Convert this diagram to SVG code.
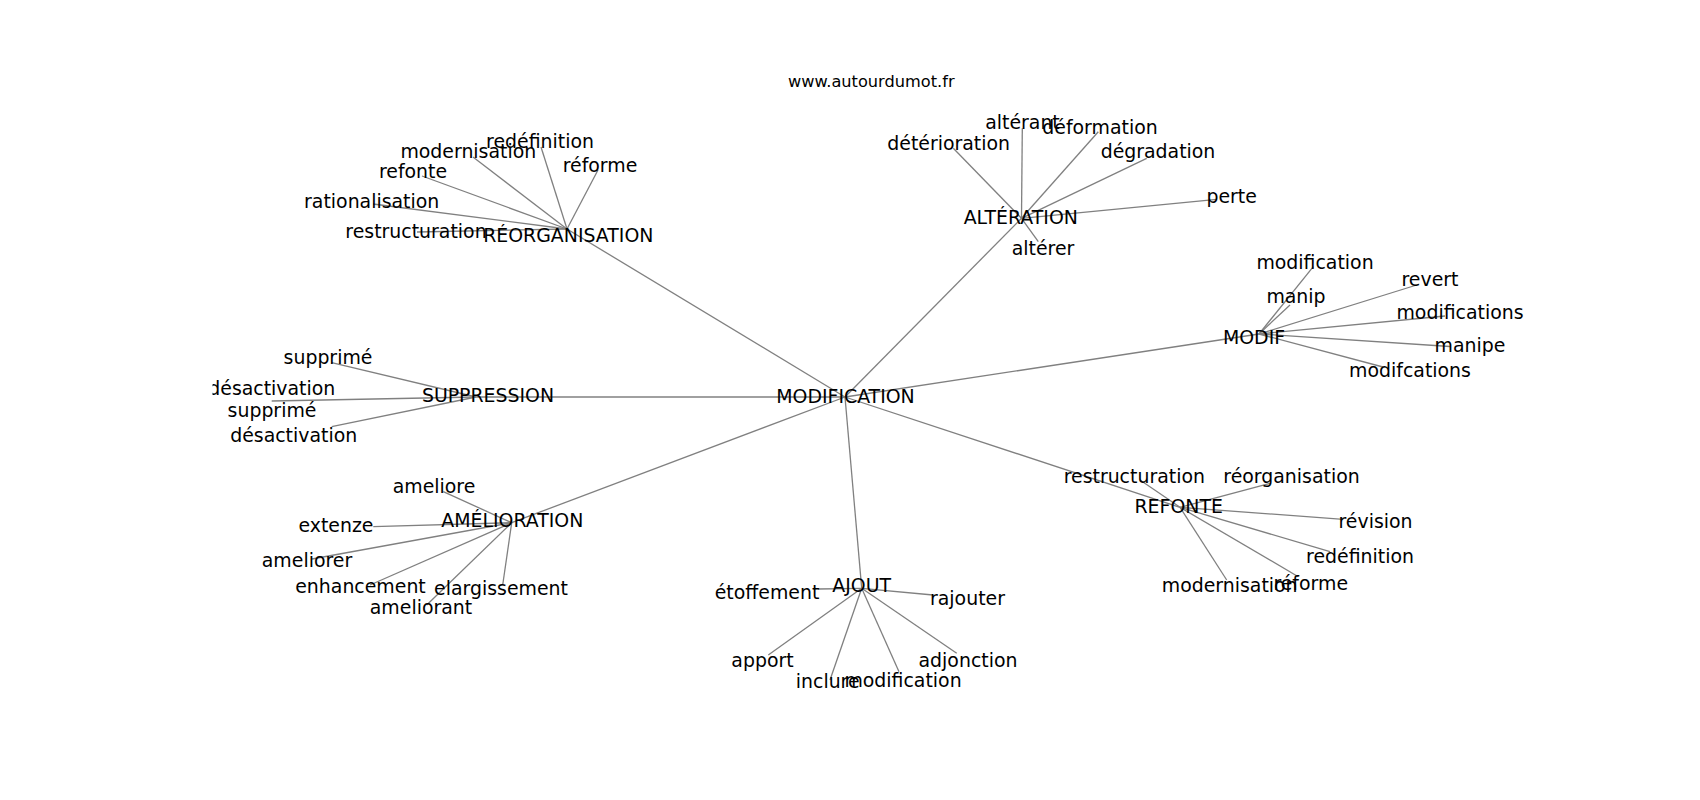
<svg xmlns="http://www.w3.org/2000/svg" width="1700" height="800" viewBox="0 0 1700 800">
<style>
.e{stroke:#808080;stroke-width:1.3;fill:none}
.t{font-family:"DejaVu Sans",sans-serif;font-size:18.9px;fill:#000;text-anchor:middle}
.ttl{font-family:"DejaVu Sans",sans-serif;font-size:16.2px;fill:#000;text-anchor:middle}
</style>
<defs><clipPath id="ax"><rect x="212.5" y="96" width="1317.5" height="616"/></clipPath></defs>
<rect width="1700" height="800" fill="#fff"/>
<text class="ttl" x="871.3" y="87.3">www.autourdumot.fr</text>
<g id="edges" clip-path="url(#ax)">
<line class="e" x1="845" y1="397" x2="567" y2="229"/>
<line class="e" x1="845" y1="397" x2="1021.5" y2="218.3"/>
<line class="e" x1="845" y1="397" x2="1259" y2="334"/>
<line class="e" x1="845" y1="397" x2="476" y2="397"/>
<line class="e" x1="845" y1="397" x2="511.7" y2="522.7"/>
<line class="e" x1="845" y1="397" x2="861.7" y2="588.3"/>
<line class="e" x1="845" y1="397" x2="1180" y2="507.3"/>
<line class="e" x1="567" y1="229" x2="417" y2="232"/>
<line class="e" x1="567" y1="229" x2="373" y2="204"/>
<line class="e" x1="567" y1="229" x2="422" y2="176"/>
<line class="e" x1="567" y1="229" x2="473" y2="157"/>
<line class="e" x1="567" y1="229" x2="541" y2="147"/>
<line class="e" x1="567" y1="229" x2="598" y2="170"/>
<line class="e" x1="1021.5" y1="218.3" x2="953.3" y2="148.3"/>
<line class="e" x1="1021.5" y1="218.3" x2="1022.3" y2="128.3"/>
<line class="e" x1="1021.5" y1="218.3" x2="1098.3" y2="131.7"/>
<line class="e" x1="1021.5" y1="218.3" x2="1146.7" y2="158.3"/>
<line class="e" x1="1021.5" y1="218.3" x2="1216.7" y2="199.3"/>
<line class="e" x1="1021.5" y1="218.3" x2="1038.3" y2="241.7"/>
<line class="e" x1="1259" y1="334" x2="1313.3" y2="266.7"/>
<line class="e" x1="1259" y1="334" x2="1290" y2="305"/>
<line class="e" x1="1259" y1="334" x2="1416.7" y2="285"/>
<line class="e" x1="1259" y1="334" x2="1445" y2="316"/>
<line class="e" x1="1259" y1="334" x2="1450" y2="346.5"/>
<line class="e" x1="1259" y1="334" x2="1383" y2="367"/>
<line class="e" x1="476" y1="397" x2="331.7" y2="362.7"/>
<line class="e" x1="476" y1="397" x2="271.7" y2="401"/>
<line class="e" x1="476" y1="397" x2="331.7" y2="426.7"/>
<line class="e" x1="511.7" y1="522.7" x2="443.3" y2="491.7"/>
<line class="e" x1="511.7" y1="522.7" x2="373.3" y2="526.7"/>
<line class="e" x1="511.7" y1="522.7" x2="312" y2="559"/>
<line class="e" x1="511.7" y1="522.7" x2="370" y2="585"/>
<line class="e" x1="511.7" y1="522.7" x2="426.7" y2="605"/>
<line class="e" x1="511.7" y1="522.7" x2="502.7" y2="585"/>
<line class="e" x1="861.7" y1="588.3" x2="818" y2="589"/>
<line class="e" x1="861.7" y1="588.3" x2="933" y2="595"/>
<line class="e" x1="861.7" y1="588.3" x2="768.3" y2="655"/>
<line class="e" x1="861.7" y1="588.3" x2="830" y2="680"/>
<line class="e" x1="861.7" y1="588.3" x2="899" y2="671.7"/>
<line class="e" x1="861.7" y1="588.3" x2="956.7" y2="653.3"/>
<line class="e" x1="1180" y1="507.3" x2="1140" y2="480"/>
<line class="e" x1="1180" y1="507.3" x2="1270" y2="483.3"/>
<line class="e" x1="1180" y1="507.3" x2="1343.3" y2="519.3"/>
<line class="e" x1="1180" y1="507.3" x2="1330" y2="551.7"/>
<line class="e" x1="1180" y1="507.3" x2="1298.3" y2="576.7"/>
<line class="e" x1="1180" y1="507.3" x2="1226.7" y2="580"/>
</g>
<g id="labels" clip-path="url(#ax)">
<g id="n-modification"><text class="t" x="845.5" y="402.7">MODIFICATION</text></g>
<g id="n-reorganisation"><text class="t" x="568.3" y="241.7">RÉORGANISATION</text></g>
<g id="n-r-restructuration"><text class="t" x="416" y="238.3">restructuration</text></g>
<g id="n-r-rationalisation"><text class="t" x="371.7" y="208.3">rationalisation</text></g>
<g id="n-r-refonte"><text class="t" x="413" y="178.3">refonte</text></g>
<g id="n-r-modernisation"><text class="t" x="468.3" y="158.3">modernisation</text></g>
<g id="n-r-redefinition"><text class="t" x="540" y="147.7">redéfinition</text></g>
<g id="n-r-reforme"><text class="t" x="600" y="171.7">réforme</text></g>
<g id="n-alteration"><text class="t" x="1020.8" y="224">ALTÉRATION</text></g>
<g id="n-a-alterant"><text class="t" x="1022.5" y="129.3">altérant</text></g>
<g id="n-a-deformation"><text class="t" x="1100" y="134.3">déformation</text></g>
<g id="n-a-deterioration"><text class="t" x="948.7" y="150">détérioration</text></g>
<g id="n-a-degradation"><text class="t" x="1158" y="157.7">dégradation</text></g>
<g id="n-a-perte"><text class="t" x="1231.7" y="202.7">perte</text></g>
<g id="n-a-alterer"><text class="t" x="1043" y="255">altérer</text></g>
<g id="n-modif"><text class="t" x="1254" y="344">MODIF</text></g>
<g id="n-m-modification"><text class="t" x="1315" y="269.3">modification</text></g>
<g id="n-m-revert"><text class="t" x="1430" y="286">revert</text></g>
<g id="n-m-manip"><text class="t" x="1296" y="302.7">manip</text></g>
<g id="n-m-modifications"><text class="t" x="1460" y="319.3">modifications</text></g>
<g id="n-m-manipe"><text class="t" x="1470" y="351.7">manipe</text></g>
<g id="n-m-modifcations"><text class="t" x="1410" y="376.7">modifcations</text></g>
<g id="n-suppression"><text class="t" x="488" y="401.7">SUPPRESSION</text></g>
<g id="n-s-supprime1"><text class="t" x="328" y="364.3">supprimé</text></g>
<g id="n-s-desactivation1"><text class="t" x="271.8" y="395">désactivation</text></g>
<g id="n-s-supprime2"><text class="t" x="272" y="416.7">supprimé</text></g>
<g id="n-s-desactivation2"><text class="t" x="293.7" y="441.7">désactivation</text></g>
<g id="n-amelioration"><text class="t" x="512.3" y="527.3">AMÉLIORATION</text></g>
<g id="n-am-ameliore"><text class="t" x="434" y="493.3">ameliore</text></g>
<g id="n-am-extenze"><text class="t" x="336" y="532.3">extenze</text></g>
<g id="n-am-ameliorer"><text class="t" x="307" y="566.5">ameliorer</text></g>
<g id="n-am-enhancement"><text class="t" x="360.5" y="592.7">enhancement</text></g>
<g id="n-am-elargissement"><text class="t" x="501" y="595">elargissement</text></g>
<g id="n-am-ameliorant"><text class="t" x="421" y="614">ameliorant</text></g>
<g id="n-ajout"><text class="t" x="861.7" y="591.7">AJOUT</text></g>
<g id="n-aj-etoffement"><text class="t" x="767" y="599.3">étoffement</text></g>
<g id="n-aj-rajouter"><text class="t" x="967.5" y="605">rajouter</text></g>
<g id="n-aj-apport"><text class="t" x="762.5" y="666.7">apport</text></g>
<g id="n-aj-inclure"><text class="t" x="827.7" y="688.3">inclure</text></g>
<g id="n-aj-modification"><text class="t" x="903" y="686.7">modification</text></g>
<g id="n-aj-adjonction"><text class="t" x="968" y="666.7">adjonction</text></g>
<g id="n-refonte"><text class="t" x="1178.7" y="512.7">REFONTE</text></g>
<g id="n-rf-restructuration"><text class="t" x="1134.3" y="483.3">restructuration</text></g>
<g id="n-rf-reorganisation"><text class="t" x="1291.5" y="483.3">réorganisation</text></g>
<g id="n-rf-revision"><text class="t" x="1375.5" y="528.3">révision</text></g>
<g id="n-rf-redefinition"><text class="t" x="1360" y="563.3">redéfinition</text></g>
<g id="n-rf-modernisation"><text class="t" x="1229.7" y="591.7">modernisation</text></g>
<g id="n-rf-reforme"><text class="t" x="1310.7" y="590">réforme</text></g>
</g>
</svg>
